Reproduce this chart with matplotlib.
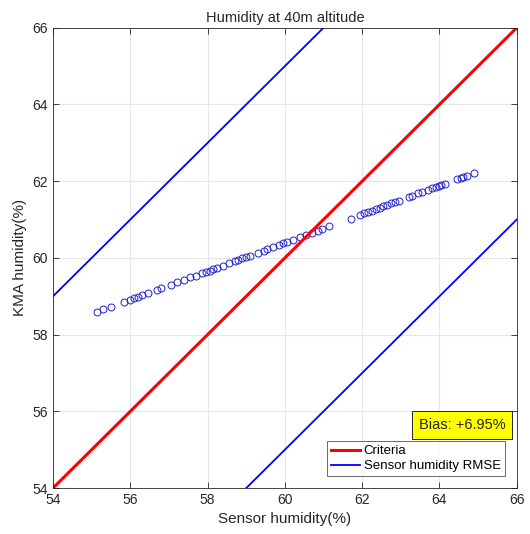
import numpy as np
import matplotlib
matplotlib.use("Agg")
import matplotlib.pyplot as plt

plt.rcParams['font.family'] = ['Liberation Sans', 'DejaVu Sans']

# sensor vs KMA humidity (%)
sensor = [55.15, 55.3, 55.5, 55.85, 56.0, 56.1, 56.2, 56.3, 56.45, 56.7, 56.8,
          57.05, 57.2, 57.4, 57.55, 57.7, 57.85, 57.95, 58.05, 58.15, 58.25,
          58.4, 58.55, 58.7, 58.8, 58.9, 59.0, 59.1, 59.3, 59.45, 59.55, 59.7,
          59.85, 59.95, 60.05, 60.2, 60.4, 60.55, 60.7, 60.85, 60.95, 61.15,
          61.7, 61.95, 62.05, 62.15, 62.25, 62.35, 62.45, 62.55, 62.65, 62.75,
          62.85, 62.95, 63.2, 63.3, 63.45, 63.55, 63.7, 63.8, 63.9, 64.0,
          64.05, 64.15, 64.45, 64.55, 64.6, 64.7, 64.9]
kma = [58.60, 58.66, 58.73, 58.86, 58.91, 58.95, 58.99, 59.03, 59.08, 59.17,
       59.21, 59.30, 59.36, 59.43, 59.49, 59.54, 59.60, 59.64, 59.67, 59.71,
       59.75, 59.80, 59.86, 59.92, 59.95, 59.99, 60.03, 60.06, 60.14, 60.19,
       60.23, 60.29, 60.34, 60.38, 60.42, 60.47, 60.55, 60.60, 60.66, 60.71,
       60.75, 60.84, 61.02, 61.12, 61.16, 61.20, 61.23, 61.27, 61.31, 61.35,
       61.38, 61.42, 61.46, 61.49, 61.59, 61.62, 61.68, 61.72, 61.77, 61.81,
       61.85, 61.88, 61.90, 61.94, 62.05, 62.09, 62.11, 62.14, 62.22]

criteria_x = [54, 66]
criteria_y = [54, 66]
upper_x = [54, 61]
upper_y = [59, 66]
lower_x = [59, 66]
lower_y = [54, 61]
ticks = [54, 56, 58, 60, 62, 64, 66]
bias_text = 'Bias: +6.95%'

fig = plt.figure(figsize=(5.3, 5.34), dpi=100)
ax = fig.add_axes([0.1, 0.086, 0.875, 0.862])

tc = '#262626'
ax.grid(True, color='#e6e6e6', linewidth=0.8)
ax.set_axisbelow(True)

ax.plot(sensor, kma, 'o', markerfacecolor='none', markeredgecolor='#2020d0',
        markersize=5, markeredgewidth=0.7)
ax.plot(criteria_x, criteria_y, color='red', linewidth=2.2, label='Criteria')
ax.plot(upper_x, upper_y, color='blue', linewidth=1.3, label='Sensor humidity RMSE')
ax.plot(lower_x, lower_y, color='blue', linewidth=1.3)

ax.set_xlim(54, 66)
ax.set_ylim(54, 66)
ax.set_xticks(ticks)
ax.set_yticks(ticks)
ax.tick_params(direction='in', top=True, right=True, labelsize=10,
               colors=tc, length=4, width=0.6)
for s in ax.spines.values():
    s.set_color(tc)
    s.set_linewidth(0.6)

ax.set_xlabel('Sensor humidity(%)', fontsize=11, color=tc, labelpad=4)
ax.set_ylabel('KMA humidity(%)', fontsize=11, color=tc, labelpad=4)
ax.set_title('Humidity at 40m altitude', fontsize=10.5, color=tc, pad=4)

leg = ax.legend(loc='lower right', fontsize=9.5, frameon=True, fancybox=False,
                edgecolor=tc, handlelength=2.2, borderaxespad=0.9,
                borderpad=0.3, labelspacing=0.2, handletextpad=0.3)
leg.get_frame().set_linewidth(0.6)

ax.text(0.975, 0.137, bias_text, transform=ax.transAxes, ha='right', va='center',
        fontsize=10.5, color=tc,
        bbox=dict(boxstyle='square,pad=0.45', facecolor='yellow',
                  edgecolor=tc, linewidth=0.7))

fig.savefig('out.png', dpi=100, facecolor='white')
